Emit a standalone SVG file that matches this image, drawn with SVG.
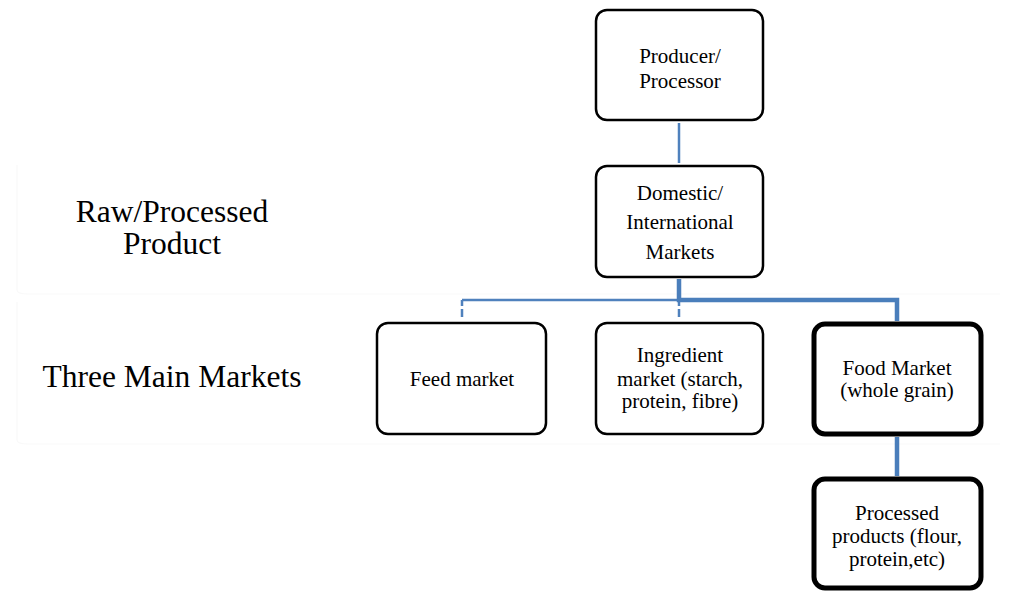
<svg xmlns="http://www.w3.org/2000/svg" width="1023" height="594" viewBox="0 0 1023 594">
  <style>
    .box { fill: #ffffff; stroke: #000000; stroke-width: 2.5; }
    .box-bold { fill: #ffffff; stroke: #000000; stroke-width: 5; }
    .lbl { font-family: 'Liberation Serif', serif; font-size: 21px; fill: #000000; text-anchor: middle; }
    .row { font-family: 'Liberation Serif', serif; font-size: 31.5px; fill: #000000; text-anchor: middle; }
    .band { fill: none; stroke: #f9f9f9; stroke-width: 1.2; }
    .link-thin { fill: none; stroke: #4f81bd; stroke-width: 2.5; }
    .link-thick { fill: none; stroke: #4a7ebb; stroke-width: 4.5; }
    .link-dash { fill: none; stroke: #4f81bd; stroke-width: 2.5; stroke-dasharray: 6 3 8 4; }
  </style>

  <rect width="1023" height="594" fill="#ffffff"/>

  <!-- faint row bands -->
  <g id="bands">
    <path class="band" d="M17,165 V290 Q17,294 28,294 H1000"/>
    <path class="band" d="M17,302 V440 Q17,444 28,444 H1000"/>
  </g>

  <!-- row captions -->
  <g id="row-raw">
    <text class="row" x="172" y="222">Raw/Processed</text>
    <text class="row" x="172" y="254">Product</text>
  </g>
  <g id="row-markets">
    <text class="row" x="172" y="387">Three Main Markets</text>
  </g>

  <!-- connectors -->
  <g id="connectors">
    <line class="link-thin" x1="679" y1="123" x2="679" y2="163"/>
    <path class="link-thin" d="M679,300 H462"/>
    <path class="link-dash" d="M462,300 V321"/>
    <path class="link-dash" d="M679,300 V321"/>
    <path class="link-thick" d="M679,279 V300 H897 V321"/>
    <line class="link-thick" x1="897" y1="437" x2="897" y2="476"/>
  </g>

  <g id="producer">
    <rect class="box" x="596" y="10" width="167" height="110" rx="11"/>
    <text class="lbl" x="680" y="63">Producer/</text>
    <text class="lbl" x="680" y="88">Processor</text>
  </g>

  <g id="domestic">
    <rect class="box" x="596" y="166" width="167" height="111" rx="11"/>
    <text class="lbl" x="680" y="200">Domestic/</text>
    <text class="lbl" x="680" y="229">International</text>
    <text class="lbl" x="680" y="259">Markets</text>
  </g>

  <g id="feed">
    <rect class="box" x="377" y="323" width="169" height="111" rx="11"/>
    <text class="lbl" x="462" y="386">Feed market</text>
  </g>

  <g id="ingredient">
    <rect class="box" x="596" y="323" width="167" height="111" rx="11"/>
    <text class="lbl" x="680" y="362">Ingredient</text>
    <text class="lbl" x="680" y="386">market (starch,</text>
    <text class="lbl" x="680" y="408">protein, fibre)</text>
  </g>

  <g id="food">
    <rect class="box-bold" x="814" y="324" width="167" height="110" rx="11"/>
    <text class="lbl" x="897" y="375">Food Market</text>
    <text class="lbl" x="897" y="397">(whole grain)</text>
  </g>

  <g id="processed">
    <rect class="box-bold" x="814" y="479" width="167" height="109" rx="11"/>
    <text class="lbl" x="897" y="520">Processed</text>
    <text class="lbl" x="897" y="543">products (flour,</text>
    <text class="lbl" x="897" y="566">protein,etc)</text>
  </g>
</svg>
